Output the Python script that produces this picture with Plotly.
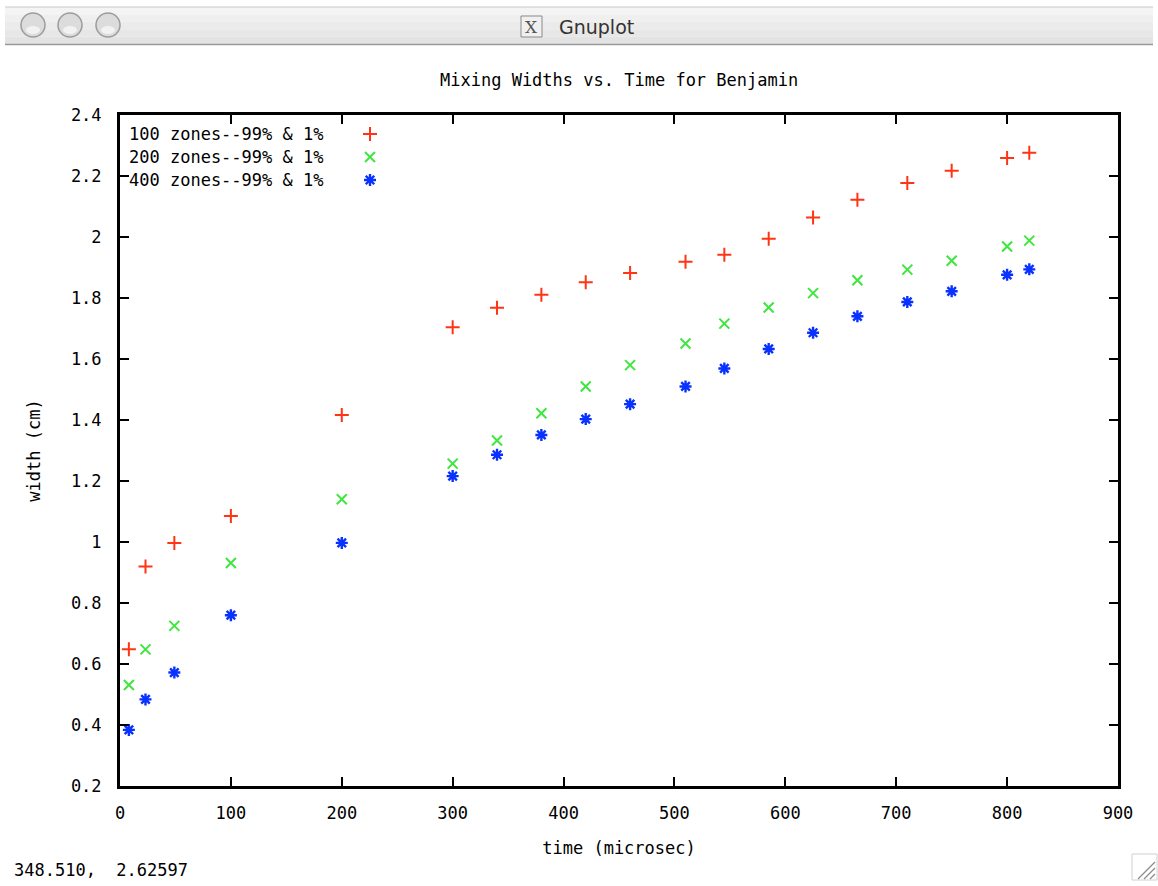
import plotly.graph_objects as go

# ---------------- data ----------------
time_100 = [8, 23, 49, 100, 200, 300, 340, 380, 420, 460, 510, 545, 585, 625, 665, 710, 750, 800, 820]
width_100 = [0.648, 0.920, 0.997, 1.085, 1.416, 1.704, 1.768, 1.811, 1.852, 1.882, 1.919, 1.942, 1.994, 2.064, 2.122, 2.177, 2.217, 2.259, 2.276]

time_200 = [8, 23, 49, 100, 200, 300, 340, 380, 420, 460, 510, 545, 585, 625, 665, 710, 750, 800, 820]
width_200 = [0.531, 0.648, 0.725, 0.931, 1.140, 1.257, 1.333, 1.422, 1.510, 1.580, 1.651, 1.716, 1.769, 1.816, 1.858, 1.893, 1.922, 1.969, 1.988]

time_400 = [8, 23, 49, 100, 200, 300, 340, 380, 420, 460, 510, 545, 585, 625, 665, 710, 750, 800, 820]
width_400 = [0.384, 0.484, 0.572, 0.760, 0.997, 1.216, 1.286, 1.351, 1.403, 1.452, 1.510, 1.569, 1.633, 1.686, 1.740, 1.787, 1.822, 1.876, 1.894]

series_names = ["100 zones--99% & 1%", "200 zones--99% & 1%", "400 zones--99% & 1%"]
series_colors = ["#ff3414", "#3ee63e", "#0a32ff"]
series_symbols = ["cross-thin-open", "x-thin-open", "asterisk-open"]

x_ticks = [0, 100, 200, 300, 400, 500, 600, 700, 800, 900]
y_ticks = [0.2, 0.4, 0.6, 0.8, 1, 1.2, 1.4, 1.6, 1.8, 2, 2.2, 2.4]
y_tick_text = ["0.2", "0.4", "0.6", "0.8", "1", "1.2", "1.4", "1.6", "1.8", "2", "2.2", "2.4"]

# ---------------- layout geometry (pixels) ----------------
W, H = 1158, 886
L, R, T, B = 120, 1118, 115, 786
MONO = "DejaVu Sans Mono"


def px(x):
    return (x - L) / (R - L)


def py(y):
    return (B - y) / (B - T)


def marker_style(sym, col):
    if sym == "asterisk-open":
        return dict(symbol=sym, size=10, color=col, line=dict(color=col, width=2.4))
    return dict(symbol=sym, size=10, color=col, line=dict(color=col, width=2))


fig = go.Figure()

for xs, ys, name, col, sym in zip(
    [time_100, time_200, time_400],
    [width_100, width_200, width_400],
    series_names, series_colors, series_symbols,
):
    fig.add_trace(go.Scatter(
        x=xs, y=ys, mode="markers", name=name, showlegend=False,
        marker=marker_style(sym, col),
        hovertemplate="%{x}, %{y}<extra>" + name + "</extra>",
    ))

# legend keys (gnuplot style: text on the left, sample on the right), on a pixel overlay axis
legend_rows_y = [134, 157, 180]
legend_key_x = 370
for name, col, sym, ry in zip(series_names, series_colors, series_symbols, legend_rows_y):
    fig.add_trace(go.Scatter(
        x=[legend_key_x], y=[ry], xaxis="x2", yaxis="y2", mode="markers",
        showlegend=False, hoverinfo="skip",
        marker=marker_style(sym, col),
    ))
    fig.add_annotation(
        xref="paper", yref="paper", x=px(127), y=py(ry), xanchor="left", yanchor="middle",
        text=name, showarrow=False, font=dict(family=MONO, size=17, color="black"),
    )

axis_common = dict(
    showgrid=False, zeroline=False, showline=True, linecolor="black", linewidth=3,
    mirror="allticks", ticks="inside", ticklen=9, tickwidth=2, tickcolor="black",
    tickfont=dict(family=MONO, size=17, color="black"),
)

fig.update_layout(
    width=W, height=H,
    margin=dict(l=L, r=W - R, t=T, b=H - B, pad=0),
    paper_bgcolor="white", plot_bgcolor="white",
    showlegend=False,
    xaxis=dict(range=[0, 900], tickvals=x_ticks, ticklabelstandoff=10,
               title=dict(text="time (microsec)", standoff=20,
                          font=dict(family=MONO, size=17, color="black")),
               **axis_common),
    yaxis=dict(range=[0.2, 2.4], tickvals=y_ticks, ticktext=y_tick_text, ticklabelstandoff=12,
               title=dict(text="width (cm)", standoff=26,
                          font=dict(family=MONO, size=17, color="black")),
               **axis_common),
    xaxis2=dict(overlaying="x", range=[L, R], visible=False, fixedrange=True),
    yaxis2=dict(overlaying="y", range=[B, T], visible=False, fixedrange=True),
)

# plot title
fig.add_annotation(
    xref="paper", yref="paper", x=px(619), y=py(80), xanchor="center", yanchor="middle",
    text="Mixing Widths vs. Time for Benjamin", showarrow=False,
    font=dict(family=MONO, size=17, color="black"),
)

# ---------------- window chrome ----------------
shapes = []
bands = ["#f4f4f4", "#efefef", "#ebebeb", "#e7e7e7", "#e3e3e3"]
top, bottom = 7, 44
step = (bottom - top) / len(bands)
for i, c in enumerate(bands):
    shapes.append(dict(type="rect", xref="paper", yref="paper",
                       x0=px(5), x1=px(1153), y0=py(top + (i + 1) * step), y1=py(top + i * step),
                       fillcolor=c, line=dict(width=0), layer="below"))
shapes.append(dict(type="line", xref="paper", yref="paper", x0=px(5), x1=px(1153),
                   y0=py(44.5), y1=py(44.5), line=dict(color="#9a9a9a", width=1.5)))
shapes.append(dict(type="line", xref="paper", yref="paper", x0=px(5), x1=px(1153),
                   y0=py(7), y1=py(7), line=dict(color="#c8c8c8", width=1)))
for cx in [33, 70, 108]:
    shapes.append(dict(type="circle", xref="paper", yref="paper",
                       x0=px(cx - 12), x1=px(cx + 12), y0=py(25 + 12), y1=py(25 - 12),
                       fillcolor="#dcdcdc", line=dict(color="#9c9c9c", width=1.5)))
    shapes.append(dict(type="circle", xref="paper", yref="paper",
                       x0=px(cx - 7), x1=px(cx + 7), y0=py(34), y1=py(26),
                       fillcolor="#f2f2f2", line=dict(width=0)))
shapes.append(dict(type="rect", xref="paper", yref="paper",
                   x0=px(521), x1=px(542), y0=py(37), y1=py(16),
                   fillcolor="#f0f0f0", line=dict(color="#8a8a8a", width=1)))
shapes.append(dict(type="rect", xref="paper", yref="paper",
                   x0=px(1132), x1=px(1157), y0=py(880), y1=py(854),
                   fillcolor="white", line=dict(color="#d0d0d0", width=1)))
for off in [0, 6, 12]:
    shapes.append(dict(type="line", xref="paper", yref="paper",
                       x0=px(1138 + off), x1=px(1155), y0=py(879), y1=py(862 + off),
                       line=dict(color="#8c8c8c", width=1.2)))
fig.update_layout(shapes=shapes)

fig.add_annotation(xref="paper", yref="paper", x=px(531.5), y=py(27), xanchor="center",
                   yanchor="middle", text="X", showarrow=False,
                   font=dict(family="DejaVu Serif", size=17, color="#555555"))
fig.add_annotation(xref="paper", yref="paper", x=px(557), y=py(27), xanchor="left",
                   yanchor="middle", text="Gnuplot", showarrow=False,
                   font=dict(family="DejaVu Sans", size=19, color="#333333"))
fig.add_annotation(xref="paper", yref="paper", x=px(12), y=py(870), xanchor="left",
                   yanchor="middle", text="348.510,  2.62597", showarrow=False,
                   font=dict(family=MONO, size=17, color="black"))

fig.write_html(
    "out.html",
    config={"displayModeBar": False},
    post_script="document.body.style.margin='0';document.body.style.overflow='hidden';",
)
